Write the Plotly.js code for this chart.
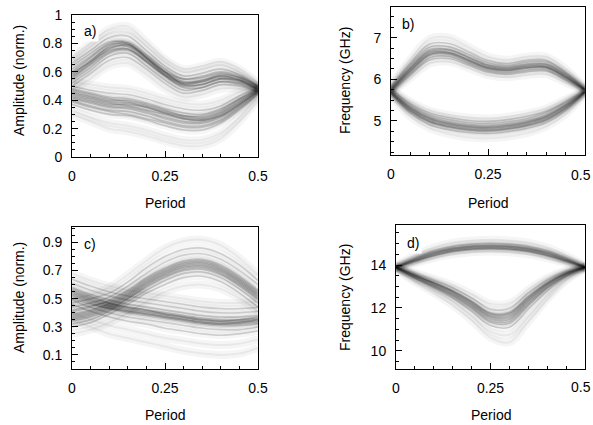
<!DOCTYPE html>
<html>
<head>
<meta charset="utf-8">
<script src="https://cdn.plot.ly/plotly-3.0.1.min.js"></script>
<style>html,body{margin:0;padding:0;background:#fff;}#chart{width:593px;height:425px;}</style>
</head>
<body>
<div id="chart"></div>
<script>
// Shared abscissa (Period)
var periodX = [0,0.05,0.1,0.15,0.2,0.25,0.3,0.35,0.4,0.45,0.5];
var xTickVals = [0,0.25,0.5];
var xTickText = ['0','0.25','0.5'];
var xTickTextRight = ['0','0.25',''];   // right panels: last label drawn as annotation so it stays inside the page
var lastXTick = '0.5';

// Panel a) amplitude, upper branch
var ampA_upper = [
 [0.58,0.68,0.77,0.78,0.69,0.59,0.52,0.53,0.56,0.54,0.48],
 [0.55,0.65,0.74,0.76,0.67,0.57,0.50,0.51,0.55,0.53,0.48],
 [0.62,0.71,0.80,0.81,0.72,0.62,0.55,0.56,0.59,0.56,0.49],
 [0.52,0.61,0.71,0.73,0.64,0.54,0.47,0.49,0.53,0.51,0.47],
 [0.66,0.75,0.84,0.85,0.75,0.64,0.57,0.59,0.62,0.58,0.50],
 [0.50,0.59,0.68,0.70,0.62,0.52,0.45,0.47,0.51,0.50,0.46],
 [0.60,0.70,0.79,0.79,0.70,0.60,0.53,0.54,0.57,0.55,0.49],
 [0.56,0.66,0.76,0.79,0.71,0.60,0.51,0.51,0.55,0.54,0.49],
 [0.64,0.73,0.81,0.80,0.70,0.60,0.55,0.57,0.60,0.57,0.50],
 [0.54,0.63,0.73,0.75,0.67,0.57,0.49,0.49,0.53,0.52,0.48],
 [0.59,0.67,0.75,0.76,0.68,0.58,0.52,0.54,0.58,0.56,0.50],
 [0.57,0.67,0.78,0.80,0.70,0.58,0.51,0.53,0.57,0.54,0.47]
];
var ampA_upperFaint = [
 [0.70,0.80,0.90,0.92,0.81,0.69,0.62,0.64,0.67,0.62,0.52],
 [0.47,0.55,0.64,0.66,0.58,0.48,0.42,0.44,0.48,0.48,0.46],
 [0.68,0.78,0.87,0.88,0.78,0.67,0.60,0.62,0.65,0.60,0.51]
];
// Panel a) amplitude, lower branch
var ampA_lower = [
 [0.45,0.42,0.39,0.38,0.35,0.31,0.28,0.27,0.31,0.39,0.47],
 [0.42,0.39,0.36,0.35,0.32,0.28,0.25,0.25,0.29,0.37,0.46],
 [0.48,0.45,0.42,0.41,0.38,0.34,0.31,0.30,0.34,0.41,0.48],
 [0.40,0.36,0.33,0.32,0.29,0.25,0.22,0.22,0.26,0.35,0.45],
 [0.50,0.47,0.45,0.44,0.41,0.37,0.34,0.33,0.36,0.43,0.49],
 [0.37,0.33,0.30,0.29,0.26,0.22,0.19,0.19,0.24,0.33,0.44],
 [0.46,0.43,0.40,0.40,0.37,0.33,0.29,0.28,0.32,0.40,0.47],
 [0.44,0.41,0.38,0.36,0.33,0.30,0.27,0.26,0.30,0.38,0.47],
 [0.43,0.40,0.37,0.37,0.35,0.31,0.27,0.26,0.29,0.37,0.46],
 [0.39,0.35,0.32,0.30,0.27,0.24,0.21,0.21,0.25,0.34,0.45],
 [0.47,0.44,0.41,0.39,0.36,0.32,0.29,0.29,0.33,0.41,0.48],
 [0.41,0.38,0.35,0.34,0.31,0.27,0.24,0.24,0.28,0.36,0.46]
];
var ampA_lowerFaint = [
 [0.33,0.28,0.24,0.22,0.19,0.15,0.12,0.12,0.17,0.28,0.42],
 [0.53,0.51,0.49,0.48,0.45,0.41,0.38,0.37,0.40,0.46,0.50],
 [0.30,0.25,0.20,0.18,0.15,0.11,0.08,0.08,0.13,0.25,0.40]
];

// Panel b) frequency (GHz), upper branch
var freqB_upper = [
 [5.75,6.25,6.65,6.65,6.48,6.30,6.25,6.32,6.32,6.08,5.75],
 [5.72,6.18,6.58,6.60,6.42,6.25,6.20,6.27,6.28,6.04,5.74],
 [5.78,6.30,6.72,6.72,6.54,6.35,6.30,6.37,6.37,6.12,5.76],
 [5.70,6.14,6.52,6.55,6.38,6.21,6.16,6.22,6.24,6.01,5.73],
 [5.80,6.35,6.78,6.78,6.60,6.40,6.34,6.42,6.42,6.15,5.78],
 [5.74,6.22,6.62,6.64,6.46,6.28,6.23,6.30,6.30,6.06,5.75],
 [5.76,6.27,6.68,6.70,6.52,6.33,6.27,6.34,6.35,6.10,5.76],
 [5.73,6.20,6.60,6.62,6.45,6.27,6.22,6.28,6.29,6.05,5.74],
 [5.68,6.10,6.47,6.50,6.34,6.17,6.12,6.18,6.20,5.98,5.72],
 [5.82,6.40,6.85,6.86,6.66,6.45,6.38,6.46,6.46,6.18,5.79]
];
var freqB_upperFaint = [
 [5.85,6.48,6.98,7.00,6.78,6.55,6.47,6.55,6.55,6.25,5.82],
 [5.65,6.03,6.38,6.42,6.27,6.10,6.05,6.10,6.12,5.92,5.70]
];
// Panel b) frequency (GHz), lower branch
var freqB_lower = [
 [5.70,5.30,5.05,4.93,4.86,4.84,4.88,4.96,5.10,5.36,5.70],
 [5.68,5.26,5.00,4.88,4.81,4.79,4.83,4.91,5.05,5.32,5.69],
 [5.72,5.34,5.10,4.98,4.91,4.89,4.93,5.01,5.15,5.40,5.71],
 [5.66,5.22,4.96,4.84,4.77,4.75,4.79,4.87,5.01,5.28,5.68],
 [5.74,5.38,5.14,5.03,4.96,4.94,4.98,5.06,5.20,5.44,5.72],
 [5.69,5.28,5.03,4.91,4.84,4.82,4.86,4.94,5.08,5.34,5.70],
 [5.71,5.32,5.07,4.95,4.88,4.86,4.90,4.98,5.12,5.38,5.71],
 [5.67,5.24,4.98,4.86,4.79,4.77,4.81,4.89,5.03,5.30,5.69],
 [5.64,5.18,4.91,4.79,4.72,4.70,4.74,4.82,4.96,5.24,5.67],
 [5.76,5.42,5.19,5.08,5.01,4.99,5.03,5.11,5.24,5.47,5.73]
];
var freqB_lowerFaint = [
 [5.60,5.10,4.82,4.68,4.60,4.58,4.62,4.70,4.86,5.16,5.64],
 [5.78,5.47,5.25,5.14,5.08,5.06,5.10,5.18,5.30,5.52,5.75]
];

// Panel c) amplitude, rising branch
var ampC_rising = [
 [0.38,0.41,0.46,0.53,0.62,0.69,0.74,0.75,0.71,0.63,0.53],
 [0.35,0.38,0.43,0.50,0.59,0.66,0.71,0.72,0.68,0.60,0.50],
 [0.41,0.44,0.49,0.56,0.65,0.72,0.77,0.78,0.74,0.66,0.56],
 [0.32,0.35,0.41,0.48,0.56,0.63,0.68,0.69,0.65,0.57,0.47],
 [0.44,0.47,0.51,0.59,0.68,0.76,0.81,0.82,0.78,0.70,0.60],
 [0.37,0.40,0.45,0.52,0.61,0.68,0.73,0.74,0.70,0.62,0.52],
 [0.39,0.42,0.47,0.54,0.63,0.70,0.75,0.76,0.72,0.64,0.54],
 [0.30,0.33,0.39,0.46,0.54,0.60,0.65,0.66,0.62,0.54,0.44],
 [0.47,0.50,0.54,0.62,0.72,0.80,0.85,0.86,0.82,0.74,0.63],
 [0.36,0.39,0.44,0.51,0.60,0.67,0.72,0.73,0.69,0.61,0.51],
 [0.42,0.45,0.48,0.55,0.64,0.71,0.76,0.77,0.73,0.65,0.55],
 [0.34,0.37,0.42,0.50,0.58,0.65,0.70,0.71,0.67,0.59,0.49]
];
var ampC_risingFaint = [
 [0.50,0.53,0.58,0.67,0.77,0.86,0.91,0.92,0.88,0.79,0.67],
 [0.25,0.28,0.33,0.40,0.48,0.55,0.59,0.60,0.57,0.50,0.41]
];
// Panel c) amplitude, falling branch
var ampC_falling = [
 [0.55,0.50,0.46,0.43,0.41,0.39,0.37,0.35,0.34,0.34,0.35],
 [0.52,0.47,0.43,0.40,0.38,0.36,0.34,0.32,0.31,0.31,0.32],
 [0.58,0.53,0.49,0.46,0.44,0.42,0.40,0.38,0.37,0.37,0.38],
 [0.49,0.44,0.40,0.37,0.35,0.33,0.31,0.29,0.28,0.28,0.30],
 [0.61,0.56,0.52,0.49,0.47,0.45,0.43,0.41,0.40,0.40,0.41],
 [0.54,0.49,0.45,0.42,0.40,0.38,0.36,0.34,0.33,0.33,0.34],
 [0.56,0.51,0.47,0.44,0.42,0.40,0.38,0.36,0.35,0.35,0.36],
 [0.46,0.41,0.37,0.34,0.32,0.29,0.27,0.25,0.24,0.25,0.27],
 [0.64,0.59,0.55,0.52,0.50,0.48,0.46,0.44,0.43,0.43,0.44],
 [0.53,0.48,0.44,0.41,0.39,0.37,0.35,0.33,0.32,0.32,0.33],
 [0.50,0.46,0.43,0.41,0.39,0.37,0.35,0.33,0.32,0.33,0.35],
 [0.57,0.52,0.47,0.44,0.42,0.39,0.37,0.35,0.34,0.35,0.37]
];
var ampC_fallingFaint = [
 [0.40,0.35,0.31,0.28,0.25,0.22,0.20,0.18,0.17,0.18,0.21],
 [0.68,0.63,0.59,0.56,0.54,0.52,0.50,0.48,0.47,0.47,0.48],
 [0.35,0.30,0.25,0.22,0.19,0.16,0.13,0.11,0.10,0.11,0.15]
];

// Panel d) frequency (GHz), upper branch
var freqD_upper = [
 [13.90,14.25,14.55,14.75,14.85,14.88,14.85,14.75,14.55,14.25,13.90],
 [13.88,14.20,14.48,14.68,14.78,14.81,14.78,14.68,14.48,14.20,13.88],
 [13.92,14.30,14.62,14.82,14.92,14.95,14.92,14.82,14.62,14.30,13.92],
 [13.86,14.15,14.42,14.62,14.72,14.75,14.72,14.62,14.42,14.15,13.86],
 [13.94,14.35,14.68,14.88,14.98,15.02,14.98,14.88,14.68,14.35,13.94],
 [13.90,14.22,14.52,14.72,14.82,14.85,14.82,14.72,14.52,14.22,13.90],
 [13.91,14.27,14.58,14.78,14.88,14.91,14.88,14.78,14.58,14.27,13.91],
 [13.87,14.18,14.45,14.65,14.75,14.78,14.75,14.65,14.45,14.18,13.87]
];
var freqD_upperFaint = [
 [13.97,14.45,14.82,15.05,15.15,15.18,15.15,15.05,14.82,14.45,13.97],
 [13.83,14.08,14.32,14.50,14.60,14.63,14.60,14.50,14.32,14.08,13.83]
];
// Panel d) frequency (GHz), lower branch
var freqD_lower = [
 [13.90,13.50,13.12,12.72,12.20,11.62,11.62,12.40,13.10,13.60,13.90],
 [13.88,13.45,13.05,12.62,12.08,11.48,11.46,12.25,13.00,13.55,13.88],
 [13.92,13.55,13.20,12.82,12.32,11.77,11.80,12.55,13.20,13.65,13.92],
 [13.86,13.40,12.98,12.52,11.95,11.33,11.28,12.10,12.90,13.50,13.87],
 [13.94,13.60,13.28,12.94,12.47,11.95,11.98,12.70,13.30,13.70,13.93],
 [13.90,13.48,13.10,12.68,12.15,11.56,11.54,12.33,13.05,13.58,13.90],
 [13.89,13.52,13.16,12.76,12.25,11.68,11.70,12.45,13.13,13.61,13.90],
 [13.85,13.38,12.93,12.45,11.85,11.18,11.10,11.95,12.80,13.45,13.86],
 [13.91,13.53,13.18,12.79,12.29,11.73,11.75,12.50,13.15,13.63,13.91],
 [13.87,13.43,13.02,12.58,12.02,11.40,11.37,12.17,12.95,13.52,13.88]
];
var freqD_lowerFaint = [
 [13.82,13.30,12.82,12.30,11.62,10.90,10.75,11.60,12.55,13.35,13.84],
 [13.80,13.22,12.70,12.12,11.42,10.62,10.40,11.35,12.40,13.28,13.83],
 [13.96,13.65,13.36,13.06,12.65,12.20,12.22,12.85,13.40,13.75,13.95]
];

var panelLabels = ['a)','b)','c)','d)'];
var yTitles = ['Amplitude (norm.)','Frequency (GHz)','Amplitude (norm.)','Frequency (GHz)'];
var xTitle = 'Period';

var traces = [];
function addGroup(curves, xa, ya, faint) {
  curves.forEach(function (yv) {
    traces.push({
      x: periodX, y: yv, xaxis: xa, yaxis: ya, type: 'scatter', mode: 'lines',
      line: {color: faint ? 'rgba(0,0,0,0.04)' : 'rgba(0,0,0,0.035)', width: 8, shape: 'spline', smoothing: 1},
      hoverinfo: 'skip', showlegend: false
    });
    traces.push({
      x: periodX, y: yv, xaxis: xa, yaxis: ya, type: 'scatter', mode: 'lines',
      line: {color: faint ? 'rgba(0,0,0,0.05)' : 'rgba(0,0,0,0.16)', width: faint ? 2 : 1.6, shape: 'spline', smoothing: 1},
      hoverinfo: 'skip', showlegend: false
    });
  });
}
addGroup(ampA_upperFaint, 'x', 'y', true);
addGroup(ampA_lowerFaint, 'x', 'y', true);
addGroup(ampA_upper, 'x', 'y', false);
addGroup(ampA_lower, 'x', 'y', false);
addGroup(freqB_upperFaint, 'x2', 'y2', true);
addGroup(freqB_lowerFaint, 'x2', 'y2', true);
addGroup(freqB_upper, 'x2', 'y2', false);
addGroup(freqB_lower, 'x2', 'y2', false);
addGroup(ampC_risingFaint, 'x3', 'y3', true);
addGroup(ampC_fallingFaint, 'x3', 'y3', true);
addGroup(ampC_rising, 'x3', 'y3', false);
addGroup(ampC_falling, 'x3', 'y3', false);
addGroup(freqD_upperFaint, 'x4', 'y4', true);
addGroup(freqD_lowerFaint, 'x4', 'y4', true);
addGroup(freqD_upper, 'x4', 'y4', false);
addGroup(freqD_lower, 'x4', 'y4', false);

var W = 593, H = 425;
var FONT = 'Liberation Sans, Arial, Helvetica, sans-serif';
function px(a, b) { return [a / W, b / W]; }
function py(top, bottom) { return [1 - bottom / H, 1 - top / H]; }

function xAxis(dom, anchor, ticktext) {
  return {
    domain: dom, anchor: anchor, range: [0, 0.5],
    tickvals: xTickVals, ticktext: ticktext,
    ticks: 'inside', ticklen: 6, tickcolor: '#000', tickwidth: 1,
    minor: {ticks: 'inside', ticklen: 3, dtick: 0.05, tick0: 0, tickcolor: '#000', showgrid: false},
    showline: true, linecolor: '#000', linewidth: 1, mirror: true,
    showgrid: false, zeroline: false, ticklabelstandoff: 6, ticklabeloverflow: 'allow',
    tickfont: {family: FONT, size: 14, color: '#000'}
  };
}
function yAxis(dom, anchor, range, tickvals, minorDtick, minorTick0) {
  return {
    domain: dom, anchor: anchor, range: range, tickvals: tickvals,
    ticks: 'inside', ticklen: 6, tickcolor: '#000', tickwidth: 1,
    minor: {ticks: 'inside', ticklen: 3, dtick: minorDtick, tick0: minorTick0, tickcolor: '#000', showgrid: false},
    showline: true, linecolor: '#000', linewidth: 1, mirror: true,
    showgrid: false, zeroline: false, ticklabelstandoff: 6, ticklabeloverflow: 'allow',
    tickfont: {family: FONT, size: 14, color: '#000'}
  };
}

var layout = {
  width: W, height: H, margin: {l: 0, r: 0, t: 0, b: 0},
  paper_bgcolor: '#fff', plot_bgcolor: '#fff', showlegend: false,
  font: {family: FONT, size: 14, color: '#000'},
  xaxis: xAxis(px(72, 258), 'y', xTickText),
  yaxis: yAxis(py(15, 157), 'x', [0, 1], [0, 0.2, 0.4, 0.6, 0.8, 1], 0.05, 0),
  xaxis2: xAxis(px(391, 585), 'y2', xTickTextRight),
  yaxis2: yAxis(py(7, 155), 'x2', [4.18, 7.74], [5, 6, 7], 0.25, 4),
  xaxis3: xAxis(px(72, 258), 'y3', xTickText),
  yaxis3: yAxis(py(227, 369), 'x3', [0, 1.01], [0.1, 0.3, 0.5, 0.7, 0.9], 0.05, 0),
  xaxis4: xAxis(px(396, 585), 'y4', xTickTextRight),
  yaxis4: yAxis(py(225, 369), 'x4', [9.15, 15.87], [10, 12, 14], 0.5, 9),
  annotations: []
};

// axis titles and panel labels
var xTitlePos = [[165, 203], [488, 203], [165, 415], [491, 415]];
var yTitlePos = [[19, 81], [345, 81], [19, 298], [345, 298]];
var labelPos = [[81, 31], [399, 24], [81, 244], [404, 243]];
for (var i = 0; i < 4; i++) {
  layout.annotations.push({text: xTitle, xref: 'paper', yref: 'paper',
    x: xTitlePos[i][0] / W, y: 1 - xTitlePos[i][1] / H, xanchor: 'center', yanchor: 'middle',
    showarrow: false, font: {family: FONT, size: 14, color: '#000'}});
  layout.annotations.push({text: yTitles[i], xref: 'paper', yref: 'paper', textangle: -90,
    x: yTitlePos[i][0] / W, y: 1 - yTitlePos[i][1] / H, xanchor: 'center', yanchor: 'middle',
    showarrow: false, font: {family: FONT, size: 14, color: '#000'}});
  layout.annotations.push({text: panelLabels[i], xref: 'paper', yref: 'paper',
    x: labelPos[i][0] / W, y: 1 - labelPos[i][1] / H, xanchor: 'left', yanchor: 'middle',
    showarrow: false, bgcolor: '#fff', borderpad: 2, font: {family: FONT, size: 14, color: '#000'}});
}
// last x tick label of the right-hand panels, kept inside the page edge
[175, 387].forEach(function (yc) {
  layout.annotations.push({text: lastXTick, xref: 'paper', yref: 'paper',
    x: 1, y: 1 - yc / H, xanchor: 'right', yanchor: 'middle',
    showarrow: false, font: {family: FONT, size: 14, color: '#000'}});
});

Plotly.newPlot('chart', traces, layout, {staticPlot: true, displayModeBar: false});
</script>
</body>
</html>
